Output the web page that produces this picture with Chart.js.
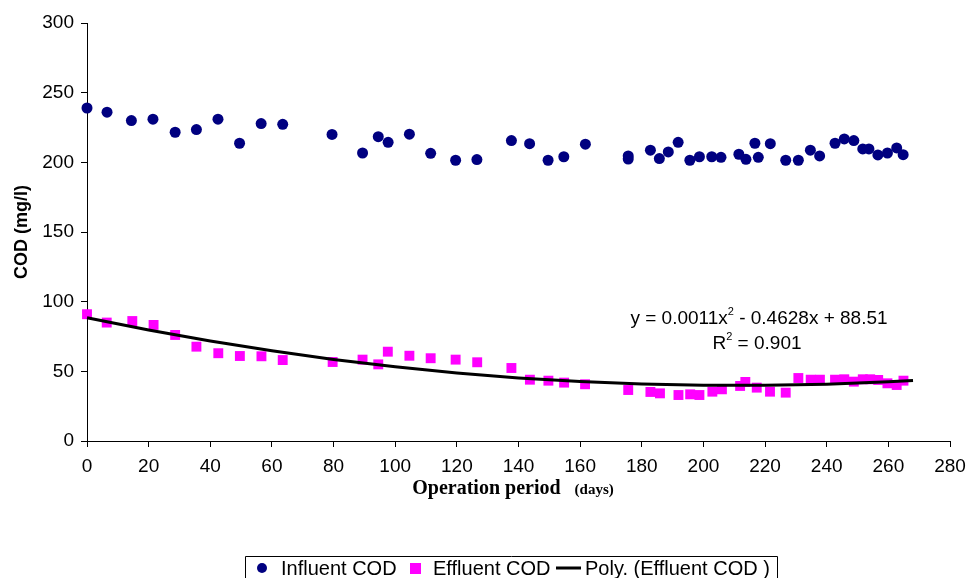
<!DOCTYPE html>
<html>
<head>
<meta charset="utf-8">
<script src="https://cdn.jsdelivr.net/npm/chart.js@4.4.0/dist/chart.umd.min.js"></script>
<style>
html,body{margin:0;padding:0;background:#fff;}
#wrap{width:968px;height:578px;position:relative;}
</style>
</head>
<body>
<div id="wrap"><canvas id="c" width="968" height="578"></canvas></div>
<script>
// Influent COD (days, mg/l)
const influentDays = [0, 6.5, 14.4, 21.4, 28.6, 35.5, 42.5, 49.5, 56.5, 63.5, 79.5, 89.4, 94.5, 97.7, 104.6, 111.5, 119.6, 126.5, 137.7, 143.6, 149.6, 154.7, 161.7, 175.6, 175.6, 182.8, 185.7, 188.6, 191.8, 195.6, 198.7, 202.7, 205.7, 211.5, 213.8, 216.7, 217.8, 221.7, 226.7, 230.8, 234.7, 237.7, 242.7, 245.7, 248.8, 251.7, 253.7, 256.6, 259.7, 262.7, 264.8];
const influentCOD = [239, 236, 230, 231, 221.6, 223.5, 231, 213.7, 227.8, 227.3, 220, 206.7, 218.4, 214.4, 220.2, 206.5, 201.5, 202, 215.6, 213.4, 201.5, 204, 213, 204.6, 202.4, 208.7, 202.7, 207.5, 214.4, 201.5, 204, 204, 203.6, 205.8, 202.2, 213.7, 203.6, 213.4, 201.5, 201.5, 208.7, 204.6, 213.7, 216.8, 215.6, 209.6, 209.6, 205.3, 206.7, 210.3, 205.5];
// Effluent COD (days, mg/l)
const effluentDays = [0, 6.4, 14.7, 21.6, 28.6, 35.5, 42.6, 49.6, 56.6, 63.5, 79.7, 89.4, 94.5, 97.6, 104.6, 111.5, 119.6, 126.6, 137.7, 143.7, 149.7, 154.8, 161.6, 175.6, 182.8, 185.9, 191.9, 195.7, 198.7, 202.9, 206, 211.9, 213.6, 217.3, 221.6, 226.7, 230.8, 234.8, 237.8, 242.7, 245.7, 248.8, 251.7, 254.1, 256.7, 259.7, 262.7, 264.9];
const effluentCOD = [91, 85, 86.1, 83.3, 76.1, 67.7, 63, 61, 60.8, 58.1, 56.7, 58.4, 55, 64.1, 61.2, 59.4, 58.4, 56.5, 52.4, 44, 43.3, 41.9, 40.7, 36.6, 35.2, 34.2, 33, 33.5, 33, 35.4, 37.1, 39.5, 42.4, 38.3, 35.4, 34.7, 45.2, 44, 44, 44, 44.3, 42.6, 44.3, 44.3, 43.8, 41.4, 40.2, 43.3];
// Poly. trend line (Effluent COD)
const trendDays = [0, 20, 40, 60, 80, 100, 120, 140, 160, 180, 200, 220, 240, 260, 268];
const trendCOD = [88.51, 79.69, 71.76, 64.70, 58.53, 53.23, 48.81, 45.28, 42.62, 40.85, 39.95, 39.93, 40.80, 42.54, 43.49];
// Axis ticks
const xTicks = [0, 20, 40, 60, 80, 100, 120, 140, 160, 180, 200, 220, 240, 260, 280];
const yTicks = [0, 50, 100, 150, 200, 250, 300];
const seriesNames = ['Influent COD', 'Effluent COD', 'Poly. (Effluent COD )'];
const equationText = ['y = 0.0011x', '2', ' - 0.4628x + 88.51'];
const r2Text = ['R', '2', ' = 0.901'];

const pts = (xs, ys) => xs.map((x, i) => ({x: x, y: ys[i]}));

const FONT = 'Arial, "Liberation Sans", sans-serif';
const SERIF = '"Liberation Serif", "Times New Roman", serif';

const extras = {
  id: 'extras',
  afterDraw(chart) {
    const ctx = chart.ctx;
    ctx.save();
    // equation
    ctx.fillStyle = '#000';
    ctx.textBaseline = 'alphabetic';
    function supLine(parts, x, y, size) {
      const sup = Math.round(size * 0.6);
      ctx.font = size + 'px ' + FONT;
      const w0 = ctx.measureText(parts[0]).width;
      ctx.font = sup + 'px ' + FONT;
      const w1 = ctx.measureText(parts[1]).width;
      ctx.font = size + 'px ' + FONT;
      const w2 = ctx.measureText(parts[2]).width;
      let sx = x - (w0 + w1 + w2) / 2;
      ctx.textAlign = 'left';
      ctx.fillText(parts[0], sx, y);
      ctx.font = sup + 'px ' + FONT;
      ctx.fillText(parts[1], sx + w0, y - size * 0.45);
      ctx.font = size + 'px ' + FONT;
      ctx.fillText(parts[2], sx + w0 + w1, y);
    }
    supLine(equationText, 759, 324, 19);
    supLine(r2Text, 757, 349, 19);

    // x-axis title (two sizes)
    const t1 = 'Operation period';
    const t2 = '(days)';
    ctx.font = 'bold 20px ' + SERIF;
    const w1 = ctx.measureText(t1).width;
    ctx.font = 'bold 15px ' + SERIF;
    const w2 = ctx.measureText(t2).width;
    const gap = 14;
    let sx = 513 - (w1 + gap + w2) / 2;
    ctx.textAlign = 'left';
    ctx.font = 'bold 20px ' + SERIF;
    ctx.fillText(t1, sx, 494);
    ctx.font = 'bold 15px ' + SERIF;
    ctx.fillText(t2, sx + w1 + gap, 494);

    // legend
    const lx = 245, ly = 556, lr = 777;
    ctx.strokeStyle = '#000';
    ctx.lineWidth = 1;
    ctx.beginPath();
    ctx.moveTo(lx + 0.5, 578);
    ctx.lineTo(lx + 0.5, ly + 0.5);
    ctx.lineTo(lr + 0.5, ly + 0.5);
    ctx.lineTo(lr + 0.5, 578);
    ctx.stroke();
    const cy = 568;
    ctx.font = '20px ' + FONT;
    ctx.textBaseline = 'middle';
    ctx.fillStyle = '#000080';
    ctx.beginPath();
    ctx.arc(262, cy, 5, 0, Math.PI * 2);
    ctx.fill();
    ctx.fillStyle = '#000';
    ctx.fillText(seriesNames[0], 281, cy + 1);
    ctx.fillStyle = '#FF00FF';
    ctx.fillRect(410, cy - 5, 11, 11);
    ctx.fillStyle = '#000';
    ctx.fillText(seriesNames[1], 433, cy + 1);
    ctx.fillRect(556, cy - 1.5, 25, 3);
    ctx.fillText(seriesNames[2], 585, cy + 1);
    ctx.restore();
  }
};

new Chart(document.getElementById('c'), {
  type: 'scatter',
  data: {
    datasets: [
      {
        label: seriesNames[0],
        data: pts(influentDays, influentCOD),
        pointStyle: 'circle',
        pointRadius: 5.5,
        pointHoverRadius: 5.5,
        backgroundColor: '#000080',
        borderColor: '#000080',
        borderWidth: 0,
        showLine: false,
        clip: false,
        order: 2
      },
      {
        label: seriesNames[1],
        data: pts(effluentDays, effluentCOD),
        pointStyle: 'rect',
        pointRadius: 7,
        pointHoverRadius: 7,
        backgroundColor: '#FF00FF',
        borderColor: '#FF00FF',
        borderWidth: 0,
        showLine: false,
        clip: false,
        order: 1
      },
      {
        label: seriesNames[2],
        data: pts(trendDays, trendCOD),
        showLine: true,
        pointRadius: 0,
        borderColor: '#000',
        borderWidth: 3,
        backgroundColor: '#000',
        tension: 0,
        clip: false,
        order: 0
      }
    ]
  },
  options: {
    responsive: false,
    animation: false,
    events: [],
    layout: { padding: { left: 0, right: 18, top: 23, bottom: 0 } },
    plugins: {
      legend: { display: false },
      tooltip: { enabled: false }
    },
    scales: {
      x: {
        type: 'linear',
        min: 0, max: 280,
        afterBuildTicks: (s) => { s.ticks = xTicks.map(v => ({value: v})); },
        ticks: { color: '#000', font: { family: FONT, size: 19 }, padding: 8, maxRotation: 0, autoSkip: false },
        grid: { display: true, drawOnChartArea: false, drawTicks: true, tickLength: 6, color: '#000' },
        border: { display: true, color: '#000', width: 1 },
        afterFit: (s) => { s.height = 578 - 441; s.paddingLeft = 0; s.paddingRight = 0; }
      },
      y: {
        type: 'linear',
        min: 0, max: 300,
        afterBuildTicks: (s) => { s.ticks = yTicks.map(v => ({value: v})); },
        ticks: { color: '#000', font: { family: FONT, size: 19 }, padding: 7 },
        grid: { display: true, drawOnChartArea: false, drawTicks: true, tickLength: 6, color: '#000' },
        border: { display: true, color: '#000', width: 1 },
        title: { display: true, text: 'COD (mg/l)', color: '#000', font: { family: FONT, size: 18, weight: 'bold' }, padding: { top: 11, bottom: 0 } },
        afterFit: (s) => { s.width = 87; s.paddingTop = 0; s.paddingBottom = 0; }
      }
    }
  },
  plugins: [extras]
});
</script>
</body>
</html>
